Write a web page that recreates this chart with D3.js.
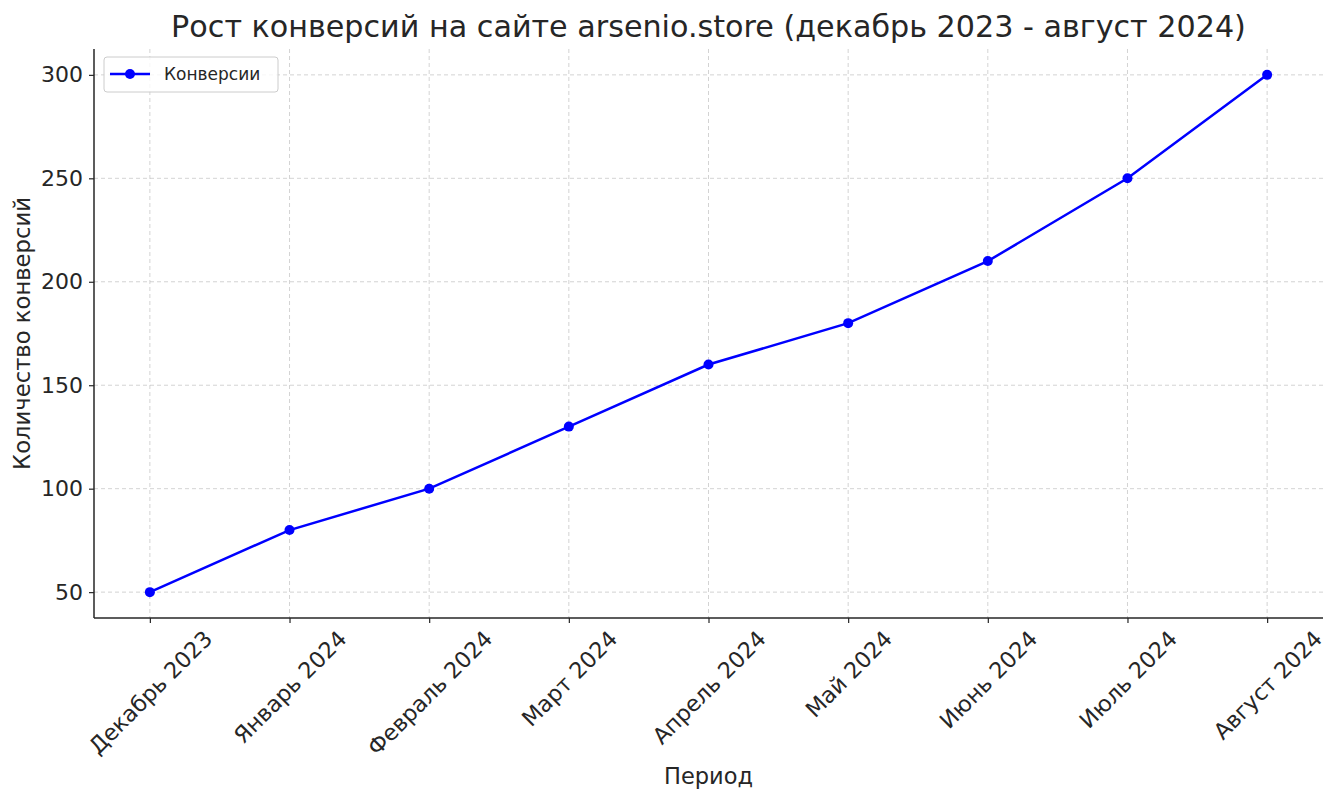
<!DOCTYPE html>
<html><head><meta charset="utf-8">
<script src="https://cdn.jsdelivr.net/npm/d3@7"></script>
<style>
body{margin:0;background:#fff;}
text{font-family:"DejaVu Sans","Noto Sans",sans-serif;fill:#262626;}
</style></head>
<body><svg id="c" width="1340" height="803"></svg>
<script>
const months = ["Декабрь 2023","Январь 2024","Февраль 2024","Март 2024","Апрель 2024","Май 2024","Июнь 2024","Июль 2024","Август 2024"];
const conversions = [50,80,100,130,160,180,210,250,300];
const yTicks = [50,100,150,200,250,300];
const titleText = "Рост конверсий на сайте arsenio.store (декабрь 2023 - август 2024)";
const seriesName = "Конверсии";

const svg = d3.select("#c");
const L=94, R=1323, T=49, B=618;
const x = d3.scaleLinear().domain([-0.4, months.length-1+0.4]).range([L,R]);
const y = d3.scaleLinear().domain([37.5,312.5]).range([B,T]);

// grid
const g = svg.append("g");
g.selectAll("line.vg").data(months).join("line")
 .attr("x1",(d,i)=>x(i)).attr("x2",(d,i)=>x(i)).attr("y1",T).attr("y2",B)
 .attr("stroke","#b0b0b0").attr("stroke-opacity",0.7).attr("stroke-width",0.8).attr("stroke-dasharray","4,3");
g.selectAll("line.hg").data(yTicks).join("line")
 .attr("x1",L).attr("x2",R).attr("y1",d=>y(d)).attr("y2",d=>y(d))
 .attr("stroke","#b0b0b0").attr("stroke-opacity",0.7).attr("stroke-width",0.8).attr("stroke-dasharray","4,3");

// axes
const ya = svg.append("g").attr("transform",`translate(${L},0)`)
 .call(d3.axisLeft(y).tickValues(yTicks).tickSize(5).tickPadding(6).tickSizeOuter(0));
ya.select(".domain").attr("stroke","#262626").attr("stroke-width",1.5).attr("d",`M0,${T}V${B}`);
ya.selectAll(".tick line").attr("stroke","#262626").attr("stroke-width",1.2);
ya.selectAll(".tick text").style("font-size","22px").attr("fill","#262626");

const xa = svg.append("g").attr("transform",`translate(0,${B})`)
 .call(d3.axisBottom(x).tickValues(d3.range(months.length)).tickFormat(i=>months[i]).tickSize(5).tickSizeOuter(0));
xa.select(".domain").attr("stroke","#262626").attr("stroke-width",1.5).attr("d",`M${L},0H${R}`);
xa.selectAll(".tick line").attr("stroke","#262626").attr("stroke-width",1.2);
xa.selectAll(".tick text").each(function(){
  const t=d3.select(this);
  t.style("font-size","22.3px").attr("fill","#262626").attr("text-anchor","middle").attr("dy",null).attr("dominant-baseline","central");
  const w=this.getComputedTextLength(), h=24;
  const cy = 8 + (w+h)*Math.SQRT1_2/2;
  t.attr("y",cy).attr("transform",`rotate(-45,0,${cy})`);
});

// line
svg.append("path").datum(conversions)
 .attr("d",d3.line().x((d,i)=>x(i)).y(d=>y(d)))
 .attr("fill","none").attr("stroke","#0000ff").attr("stroke-width",2.5);
svg.selectAll("circle.pt").data(conversions).join("circle")
 .attr("cx",(d,i)=>x(i)).attr("cy",d=>y(d)).attr("r",5).attr("fill","#0000ff");

// title & labels
svg.append("text").attr("x",(L+R)/2).attr("y",37).attr("text-anchor","middle").style("font-size","30.2px").attr("fill","#333").text(titleText);
svg.append("text").attr("x",(L+R)/2).attr("y",784).attr("text-anchor","middle").style("font-size","22.5px").text("Период");
svg.append("text").attr("transform",`translate(30,${(T+B)/2}) rotate(-90)`).attr("text-anchor","middle").style("font-size","22.7px").text("Количество конверсий");

// legend
const lg = svg.append("g");
lg.append("rect").attr("x",104).attr("y",57).attr("width",174).attr("height",35).attr("rx",3)
 .attr("fill","#fff").attr("fill-opacity",0.8).attr("stroke","#cccccc");
lg.append("line").attr("x1",110).attr("x2",150).attr("y1",74).attr("y2",74).attr("stroke","#0000ff").attr("stroke-width",2.5);
lg.append("circle").attr("cx",130).attr("cy",74).attr("r",5).attr("fill","#0000ff");
lg.append("text").attr("x",164).attr("y",74).attr("dominant-baseline","central").style("font-size","17px").attr("fill","#333").text(seriesName);
</script></body></html>
